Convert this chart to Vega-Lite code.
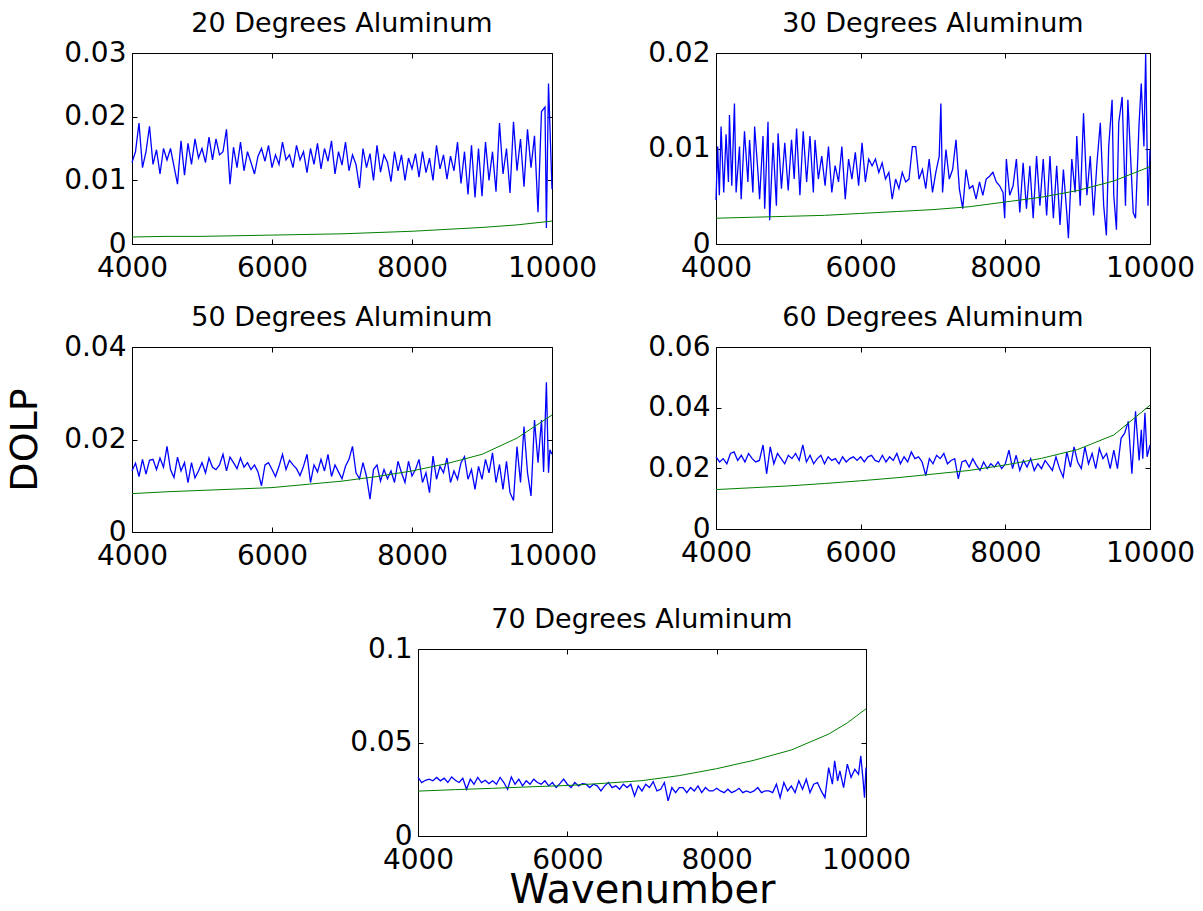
{
  "$schema": "https://vega.github.io/schema/vega-lite/v6.json",
  "background": "white",
  "padding": {"left": 0, "top": 9, "right": 0, "bottom": 0},
  "config": {
    "font": "DejaVu Sans",
    "view": {"stroke": "black", "strokeWidth": 1},
    "axis": {"labelFont": "DejaVu Sans", "labelFontSize": 28, "labelColor": "black", "domain": false, "grid": false, "tickColor": "black", "tickWidth": 1, "tickSize": -5, "labelFlush": false, "labelOverlap": false, "titleFont": "DejaVu Sans", "titleFontWeight": "normal", "titleColor": "black"},
    "axisX": {"labelPadding": 15},
    "axisY": {"labelPadding": 11},
    "title": {"font": "DejaVu Sans", "fontSize": 27, "fontWeight": "normal", "color": "black", "offset": 1, "anchor": "middle", "frame": "group"}
  },
  "datasets": {
    "b20": [{"w":4000,"d":0.0128},{"w":4050,"d":0.0145},{"w":4100,"d":0.0190},{"w":4150,"d":0.0120},{"w":4200,"d":0.0145},{"w":4250,"d":0.0185},{"w":4300,"d":0.0125},{"w":4350,"d":0.0148},{"w":4400,"d":0.0110},{"w":4450,"d":0.0150},{"w":4500,"d":0.0132},{"w":4550,"d":0.0150},{"w":4600,"d":0.0122},{"w":4650,"d":0.0094},{"w":4700,"d":0.0162},{"w":4750,"d":0.0108},{"w":4800,"d":0.0158},{"w":4850,"d":0.0125},{"w":4900,"d":0.0165},{"w":4950,"d":0.0135},{"w":5000,"d":0.0150},{"w":5050,"d":0.0128},{"w":5100,"d":0.0168},{"w":5150,"d":0.0132},{"w":5200,"d":0.0165},{"w":5250,"d":0.0140},{"w":5300,"d":0.0145},{"w":5350,"d":0.0180},{"w":5400,"d":0.0094},{"w":5450,"d":0.0152},{"w":5500,"d":0.0120},{"w":5550,"d":0.0160},{"w":5600,"d":0.0115},{"w":5650,"d":0.0145},{"w":5700,"d":0.0128},{"w":5750,"d":0.0110},{"w":5800,"d":0.0138},{"w":5850,"d":0.0150},{"w":5900,"d":0.0130},{"w":5950,"d":0.0155},{"w":6000,"d":0.0120},{"w":6050,"d":0.0140},{"w":6100,"d":0.0125},{"w":6150,"d":0.0160},{"w":6200,"d":0.0132},{"w":6250,"d":0.0140},{"w":6300,"d":0.0120},{"w":6350,"d":0.0155},{"w":6400,"d":0.0132},{"w":6450,"d":0.0145},{"w":6500,"d":0.0112},{"w":6550,"d":0.0150},{"w":6600,"d":0.0125},{"w":6650,"d":0.0158},{"w":6700,"d":0.0118},{"w":6750,"d":0.0150},{"w":6800,"d":0.0130},{"w":6850,"d":0.0162},{"w":6900,"d":0.0110},{"w":6950,"d":0.0145},{"w":7000,"d":0.0124},{"w":7050,"d":0.0160},{"w":7100,"d":0.0115},{"w":7150,"d":0.0140},{"w":7200,"d":0.0125},{"w":7250,"d":0.0088},{"w":7300,"d":0.0150},{"w":7350,"d":0.0120},{"w":7400,"d":0.0142},{"w":7450,"d":0.0100},{"w":7500,"d":0.0155},{"w":7550,"d":0.0113},{"w":7600,"d":0.0140},{"w":7650,"d":0.0128},{"w":7700,"d":0.0098},{"w":7750,"d":0.0145},{"w":7800,"d":0.0115},{"w":7850,"d":0.0140},{"w":7900,"d":0.0100},{"w":7950,"d":0.0135},{"w":8000,"d":0.0118},{"w":8050,"d":0.0142},{"w":8100,"d":0.0105},{"w":8150,"d":0.0145},{"w":8200,"d":0.0112},{"w":8250,"d":0.0135},{"w":8300,"d":0.0100},{"w":8350,"d":0.0155},{"w":8400,"d":0.0118},{"w":8450,"d":0.0140},{"w":8500,"d":0.0102},{"w":8550,"d":0.0138},{"w":8600,"d":0.0115},{"w":8650,"d":0.0160},{"w":8700,"d":0.0095},{"w":8750,"d":0.0145},{"w":8800,"d":0.0078},{"w":8850,"d":0.0155},{"w":8900,"d":0.0073},{"w":8950,"d":0.0150},{"w":9000,"d":0.0075},{"w":9050,"d":0.0160},{"w":9100,"d":0.0100},{"w":9150,"d":0.0145},{"w":9200,"d":0.0082},{"w":9250,"d":0.0190},{"w":9300,"d":0.0110},{"w":9350,"d":0.0150},{"w":9400,"d":0.0080},{"w":9450,"d":0.0192},{"w":9500,"d":0.0115},{"w":9550,"d":0.0165},{"w":9600,"d":0.0090},{"w":9650,"d":0.0180},{"w":9700,"d":0.0120},{"w":9750,"d":0.0170},{"w":9800,"d":0.0050},{"w":9850,"d":0.0208},{"w":9900,"d":0.0215},{"w":9920,"d":0.0025},{"w":9950,"d":0.0252},{"w":10000,"d":0.0086}],
    "g20": [{"w":4000,"d":0.0011},{"w":4500,"d":0.0012},{"w":5000,"d":0.0012},{"w":5500,"d":0.0013},{"w":6000,"d":0.0014},{"w":6500,"d":0.0015},{"w":7000,"d":0.0016},{"w":7500,"d":0.0018},{"w":8000,"d":0.0020},{"w":8500,"d":0.0023},{"w":9000,"d":0.0026},{"w":9500,"d":0.0030},{"w":10000,"d":0.0036}],
    "b30": [{"w":4000,"d":0.0046},{"w":4023,"d":0.0102},{"w":4046,"d":0.0051},{"w":4070,"d":0.0123},{"w":4107,"d":0.0054},{"w":4139,"d":0.0115},{"w":4172,"d":0.0065},{"w":4186,"d":0.0135},{"w":4218,"d":0.0061},{"w":4255,"d":0.0147},{"w":4278,"d":0.0054},{"w":4325,"d":0.0102},{"w":4348,"d":0.0047},{"w":4394,"d":0.0118},{"w":4441,"d":0.0065},{"w":4464,"d":0.0109},{"w":4510,"d":0.0054},{"w":4534,"d":0.0123},{"w":4580,"d":0.0075},{"w":4603,"d":0.0047},{"w":4650,"d":0.0113},{"w":4673,"d":0.0037},{"w":4719,"d":0.0128},{"w":4742,"d":0.0025},{"w":4789,"d":0.0106},{"w":4835,"d":0.0040},{"w":4858,"d":0.0116},{"w":4905,"d":0.0058},{"w":4951,"d":0.0106},{"w":4998,"d":0.0056},{"w":5044,"d":0.0109},{"w":5081,"d":0.0068},{"w":5114,"d":0.0121},{"w":5160,"d":0.0051},{"w":5206,"d":0.0118},{"w":5253,"d":0.0065},{"w":5299,"d":0.0113},{"w":5346,"d":0.0054},{"w":5369,"d":0.0109},{"w":5415,"d":0.0068},{"w":5462,"d":0.0092},{"w":5508,"d":0.0061},{"w":5555,"d":0.0102},{"w":5601,"d":0.0054},{"w":5647,"d":0.0082},{"w":5694,"d":0.0065},{"w":5740,"d":0.0102},{"w":5787,"d":0.0047},{"w":5833,"d":0.0089},{"w":5879,"d":0.0068},{"w":5926,"d":0.0096},{"w":5972,"d":0.0061},{"w":6019,"d":0.0106},{"w":6065,"d":0.0065},{"w":6111,"d":0.0089},{"w":6158,"d":0.0082},{"w":6204,"d":0.0089},{"w":6251,"d":0.0075},{"w":6297,"d":0.0085},{"w":6343,"d":0.0068},{"w":6390,"d":0.0075},{"w":6436,"d":0.0047},{"w":6483,"d":0.0068},{"w":6529,"d":0.0058},{"w":6575,"d":0.0075},{"w":6622,"d":0.0065},{"w":6668,"d":0.0068},{"w":6715,"d":0.0102},{"w":6761,"d":0.0102},{"w":6807,"d":0.0068},{"w":6854,"d":0.0078},{"w":6900,"d":0.0058},{"w":6947,"d":0.0089},{"w":6993,"d":0.0054},{"w":7039,"d":0.0075},{"w":7086,"d":0.0092},{"w":7109,"d":0.0147},{"w":7132,"d":0.0054},{"w":7179,"d":0.0099},{"w":7225,"d":0.0068},{"w":7271,"d":0.0078},{"w":7318,"d":0.0109},{"w":7364,"d":0.0058},{"w":7411,"d":0.0037},{"w":7457,"d":0.0078},{"w":7503,"d":0.0058},{"w":7550,"d":0.0061},{"w":7596,"d":0.0047},{"w":7643,"d":0.0065},{"w":7689,"d":0.0051},{"w":7735,"d":0.0068},{"w":7782,"d":0.0071},{"w":7828,"d":0.0075},{"w":7875,"d":0.0065},{"w":7921,"d":0.0061},{"w":7968,"d":0.0054},{"w":7991,"d":0.0027},{"w":8014,"d":0.0089},{"w":8060,"d":0.0051},{"w":8107,"d":0.0061},{"w":8153,"d":0.0089},{"w":8200,"d":0.0033},{"w":8246,"d":0.0085},{"w":8292,"d":0.0037},{"w":8339,"d":0.0082},{"w":8385,"d":0.0027},{"w":8432,"d":0.0092},{"w":8478,"d":0.0040},{"w":8524,"d":0.0089},{"w":8571,"d":0.0030},{"w":8617,"d":0.0092},{"w":8664,"d":0.0027},{"w":8710,"d":0.0082},{"w":8756,"d":0.0020},{"w":8803,"d":0.0078},{"w":8849,"d":0.0033},{"w":8872,"d":0.0006},{"w":8919,"d":0.0089},{"w":8965,"d":0.0054},{"w":8988,"d":0.0113},{"w":9035,"d":0.0040},{"w":9081,"d":0.0137},{"w":9128,"d":0.0051},{"w":9174,"d":0.0092},{"w":9220,"d":0.0030},{"w":9267,"d":0.0085},{"w":9313,"d":0.0127},{"w":9360,"d":0.0040},{"w":9397,"d":0.0009},{"w":9429,"d":0.0102},{"w":9476,"d":0.0151},{"w":9499,"d":0.0051},{"w":9536,"d":0.0015},{"w":9568,"d":0.0127},{"w":9615,"d":0.0154},{"w":9661,"d":0.0040},{"w":9694,"d":0.0151},{"w":9731,"d":0.0092},{"w":9768,"d":0.0033},{"w":9800,"d":0.0027},{"w":9847,"d":0.0123},{"w":9879,"d":0.0168},{"w":9916,"d":0.0102},{"w":9940,"d":0.0199},{"w":9972,"d":0.0040},{"w":10000,"d":0.0099}],
    "g30": [{"w":4000,"d":0.0027},{"w":4500,"d":0.0028},{"w":5000,"d":0.0029},{"w":5500,"d":0.0030},{"w":6000,"d":0.0032},{"w":6500,"d":0.0034},{"w":7000,"d":0.0036},{"w":7500,"d":0.0039},{"w":8000,"d":0.0044},{"w":8500,"d":0.0049},{"w":9000,"d":0.0056},{"w":9500,"d":0.0066},{"w":10000,"d":0.0081}],
    "b50": [{"w":4000,"d":0.0132},{"w":4050,"d":0.0149},{"w":4100,"d":0.0120},{"w":4150,"d":0.0157},{"w":4200,"d":0.0125},{"w":4250,"d":0.0155},{"w":4300,"d":0.0157},{"w":4350,"d":0.0135},{"w":4400,"d":0.0160},{"w":4450,"d":0.0140},{"w":4500,"d":0.0185},{"w":4550,"d":0.0135},{"w":4600,"d":0.0118},{"w":4650,"d":0.0162},{"w":4700,"d":0.0132},{"w":4750,"d":0.0150},{"w":4800,"d":0.0107},{"w":4850,"d":0.0150},{"w":4900,"d":0.0117},{"w":4950,"d":0.0132},{"w":5000,"d":0.0150},{"w":5050,"d":0.0128},{"w":5100,"d":0.0160},{"w":5150,"d":0.0140},{"w":5200,"d":0.0135},{"w":5250,"d":0.0145},{"w":5300,"d":0.0168},{"w":5350,"d":0.0132},{"w":5400,"d":0.0162},{"w":5450,"d":0.0150},{"w":5500,"d":0.0137},{"w":5550,"d":0.0160},{"w":5600,"d":0.0140},{"w":5650,"d":0.0150},{"w":5700,"d":0.0135},{"w":5750,"d":0.0145},{"w":5800,"d":0.0130},{"w":5850,"d":0.0100},{"w":5900,"d":0.0145},{"w":5950,"d":0.0150},{"w":6000,"d":0.0135},{"w":6050,"d":0.0120},{"w":6100,"d":0.0142},{"w":6150,"d":0.0168},{"w":6200,"d":0.0135},{"w":6250,"d":0.0155},{"w":6300,"d":0.0145},{"w":6350,"d":0.0137},{"w":6400,"d":0.0122},{"w":6450,"d":0.0142},{"w":6500,"d":0.0168},{"w":6550,"d":0.0107},{"w":6600,"d":0.0145},{"w":6650,"d":0.0130},{"w":6700,"d":0.0157},{"w":6750,"d":0.0132},{"w":6800,"d":0.0168},{"w":6850,"d":0.0120},{"w":6900,"d":0.0145},{"w":6950,"d":0.0130},{"w":7000,"d":0.0115},{"w":7050,"d":0.0142},{"w":7100,"d":0.0157},{"w":7150,"d":0.0185},{"w":7200,"d":0.0128},{"w":7250,"d":0.0115},{"w":7300,"d":0.0150},{"w":7350,"d":0.0120},{"w":7400,"d":0.0071},{"w":7450,"d":0.0135},{"w":7500,"d":0.0145},{"w":7550,"d":0.0110},{"w":7600,"d":0.0135},{"w":7650,"d":0.0115},{"w":7700,"d":0.0132},{"w":7750,"d":0.0107},{"w":7800,"d":0.0153},{"w":7850,"d":0.0128},{"w":7900,"d":0.0107},{"w":7950,"d":0.0153},{"w":8000,"d":0.0121},{"w":8050,"d":0.0135},{"w":8100,"d":0.0157},{"w":8150,"d":0.0107},{"w":8200,"d":0.0128},{"w":8250,"d":0.0085},{"w":8300,"d":0.0164},{"w":8350,"d":0.0114},{"w":8400,"d":0.0142},{"w":8450,"d":0.0128},{"w":8500,"d":0.0160},{"w":8550,"d":0.0107},{"w":8600,"d":0.0132},{"w":8650,"d":0.0114},{"w":8700,"d":0.0150},{"w":8750,"d":0.0163},{"w":8800,"d":0.0114},{"w":8850,"d":0.0135},{"w":8900,"d":0.0092},{"w":8950,"d":0.0142},{"w":9000,"d":0.0114},{"w":9050,"d":0.0157},{"w":9100,"d":0.0128},{"w":9150,"d":0.0171},{"w":9200,"d":0.0107},{"w":9250,"d":0.0146},{"w":9300,"d":0.0092},{"w":9350,"d":0.0153},{"w":9400,"d":0.0085},{"w":9450,"d":0.0068},{"w":9500,"d":0.0185},{"w":9550,"d":0.0107},{"w":9600,"d":0.0228},{"w":9650,"d":0.0128},{"w":9700,"d":0.0078},{"w":9750,"d":0.0242},{"w":9800,"d":0.0150},{"w":9850,"d":0.0242},{"w":9880,"d":0.0130},{"w":9920,"d":0.0324},{"w":9950,"d":0.0128},{"w":9970,"d":0.0178},{"w":10000,"d":0.0168}],
    "g50": [{"w":4000,"d":0.0083},{"w":4500,"d":0.0087},{"w":5000,"d":0.0090},{"w":5500,"d":0.0093},{"w":6000,"d":0.0096},{"w":6500,"d":0.0103},{"w":7000,"d":0.0110},{"w":7500,"d":0.0120},{"w":8000,"d":0.0132},{"w":8500,"d":0.0148},{"w":9000,"d":0.0168},{"w":9500,"d":0.0203},{"w":10000,"d":0.0253}],
    "b60": [{"w":4000,"d":0.0238},{"w":4050,"d":0.0221},{"w":4100,"d":0.0232},{"w":4150,"d":0.0215},{"w":4200,"d":0.0249},{"w":4250,"d":0.0254},{"w":4300,"d":0.0226},{"w":4350,"d":0.0243},{"w":4400,"d":0.0221},{"w":4450,"d":0.0249},{"w":4500,"d":0.0232},{"w":4550,"d":0.0221},{"w":4600,"d":0.0226},{"w":4650,"d":0.0277},{"w":4700,"d":0.0182},{"w":4750,"d":0.0271},{"w":4800,"d":0.0215},{"w":4850,"d":0.0249},{"w":4900,"d":0.0232},{"w":4950,"d":0.0215},{"w":5000,"d":0.0243},{"w":5050,"d":0.0232},{"w":5100,"d":0.0249},{"w":5150,"d":0.0226},{"w":5200,"d":0.0277},{"w":5250,"d":0.0221},{"w":5300,"d":0.0243},{"w":5350,"d":0.0215},{"w":5400,"d":0.0232},{"w":5450,"d":0.0243},{"w":5500,"d":0.0215},{"w":5550,"d":0.0238},{"w":5600,"d":0.0226},{"w":5650,"d":0.0232},{"w":5700,"d":0.0215},{"w":5750,"d":0.0238},{"w":5800,"d":0.0221},{"w":5850,"d":0.0232},{"w":5900,"d":0.0238},{"w":5950,"d":0.0226},{"w":6000,"d":0.0238},{"w":6050,"d":0.0221},{"w":6100,"d":0.0238},{"w":6150,"d":0.0243},{"w":6200,"d":0.0226},{"w":6250,"d":0.0221},{"w":6300,"d":0.0243},{"w":6350,"d":0.0221},{"w":6400,"d":0.0238},{"w":6450,"d":0.0226},{"w":6500,"d":0.0249},{"w":6550,"d":0.0215},{"w":6600,"d":0.0238},{"w":6650,"d":0.0221},{"w":6700,"d":0.0254},{"w":6750,"d":0.0232},{"w":6800,"d":0.0238},{"w":6850,"d":0.0221},{"w":6900,"d":0.0176},{"w":6950,"d":0.0232},{"w":7000,"d":0.0215},{"w":7050,"d":0.0243},{"w":7100,"d":0.0232},{"w":7150,"d":0.0249},{"w":7200,"d":0.0215},{"w":7250,"d":0.0226},{"w":7300,"d":0.0232},{"w":7350,"d":0.0165},{"w":7400,"d":0.0221},{"w":7450,"d":0.0226},{"w":7500,"d":0.0204},{"w":7550,"d":0.0232},{"w":7600,"d":0.0210},{"w":7650,"d":0.0193},{"w":7700,"d":0.0221},{"w":7750,"d":0.0199},{"w":7800,"d":0.0215},{"w":7850,"d":0.0204},{"w":7900,"d":0.0221},{"w":7950,"d":0.0199},{"w":8000,"d":0.0215},{"w":8050,"d":0.0260},{"w":8100,"d":0.0199},{"w":8150,"d":0.0243},{"w":8200,"d":0.0193},{"w":8250,"d":0.0226},{"w":8300,"d":0.0204},{"w":8350,"d":0.0232},{"w":8400,"d":0.0193},{"w":8450,"d":0.0215},{"w":8500,"d":0.0199},{"w":8550,"d":0.0226},{"w":8600,"d":0.0210},{"w":8650,"d":0.0193},{"w":8700,"d":0.0238},{"w":8750,"d":0.0199},{"w":8800,"d":0.0171},{"w":8850,"d":0.0254},{"w":8900,"d":0.0204},{"w":8950,"d":0.0271},{"w":9000,"d":0.0221},{"w":9050,"d":0.0199},{"w":9100,"d":0.0271},{"w":9150,"d":0.0215},{"w":9200,"d":0.0249},{"w":9250,"d":0.0199},{"w":9300,"d":0.0265},{"w":9350,"d":0.0232},{"w":9400,"d":0.0249},{"w":9450,"d":0.0199},{"w":9500,"d":0.0260},{"w":9550,"d":0.0199},{"w":9600,"d":0.0299},{"w":9650,"d":0.0316},{"w":9700,"d":0.0355},{"w":9750,"d":0.0182},{"w":9780,"d":0.0304},{"w":9800,"d":0.0388},{"w":9850,"d":0.0226},{"w":9880,"d":0.0327},{"w":9900,"d":0.0232},{"w":9930,"d":0.0383},{"w":9960,"d":0.0238},{"w":10000,"d":0.0277}],
    "g60": [{"w":4000,"d":0.0130},{"w":4500,"d":0.0136},{"w":5000,"d":0.0142},{"w":5500,"d":0.0150},{"w":6000,"d":0.0159},{"w":6500,"d":0.0169},{"w":7000,"d":0.0181},{"w":7500,"d":0.0193},{"w":8000,"d":0.0211},{"w":8500,"d":0.0233},{"w":9000,"d":0.0262},{"w":9500,"d":0.0310},{"w":10000,"d":0.0408}],
    "b70": [{"w":4000,"d":0.0313},{"w":4050,"d":0.0286},{"w":4100,"d":0.0298},{"w":4150,"d":0.0304},{"w":4200,"d":0.0295},{"w":4250,"d":0.0313},{"w":4300,"d":0.0295},{"w":4350,"d":0.0309},{"w":4400,"d":0.0286},{"w":4450,"d":0.0316},{"w":4500,"d":0.0298},{"w":4550,"d":0.0286},{"w":4600,"d":0.0309},{"w":4650,"d":0.0250},{"w":4700,"d":0.0304},{"w":4750,"d":0.0277},{"w":4800,"d":0.0313},{"w":4850,"d":0.0286},{"w":4900,"d":0.0298},{"w":4950,"d":0.0280},{"w":5000,"d":0.0295},{"w":5050,"d":0.0277},{"w":5100,"d":0.0313},{"w":5150,"d":0.0286},{"w":5200,"d":0.0250},{"w":5250,"d":0.0316},{"w":5300,"d":0.0277},{"w":5350,"d":0.0304},{"w":5400,"d":0.0268},{"w":5450,"d":0.0295},{"w":5500,"d":0.0277},{"w":5550,"d":0.0304},{"w":5600,"d":0.0286},{"w":5650,"d":0.0277},{"w":5700,"d":0.0295},{"w":5750,"d":0.0268},{"w":5800,"d":0.0286},{"w":5850,"d":0.0259},{"w":5900,"d":0.0280},{"w":5950,"d":0.0304},{"w":6000,"d":0.0277},{"w":6050,"d":0.0259},{"w":6100,"d":0.0286},{"w":6150,"d":0.0268},{"w":6200,"d":0.0280},{"w":6250,"d":0.0277},{"w":6300,"d":0.0259},{"w":6350,"d":0.0277},{"w":6400,"d":0.0268},{"w":6450,"d":0.0241},{"w":6500,"d":0.0268},{"w":6550,"d":0.0286},{"w":6600,"d":0.0259},{"w":6650,"d":0.0268},{"w":6700,"d":0.0250},{"w":6750,"d":0.0277},{"w":6800,"d":0.0259},{"w":6850,"d":0.0277},{"w":6900,"d":0.0214},{"w":6950,"d":0.0268},{"w":7000,"d":0.0241},{"w":7050,"d":0.0277},{"w":7100,"d":0.0259},{"w":7150,"d":0.0291},{"w":7200,"d":0.0241},{"w":7250,"d":0.0250},{"w":7300,"d":0.0286},{"w":7350,"d":0.0188},{"w":7400,"d":0.0259},{"w":7450,"d":0.0232},{"w":7500,"d":0.0259},{"w":7550,"d":0.0259},{"w":7600,"d":0.0232},{"w":7650,"d":0.0259},{"w":7700,"d":0.0241},{"w":7750,"d":0.0268},{"w":7800,"d":0.0232},{"w":7850,"d":0.0259},{"w":7900,"d":0.0241},{"w":7950,"d":0.0241},{"w":8000,"d":0.0255},{"w":8050,"d":0.0241},{"w":8100,"d":0.0232},{"w":8150,"d":0.0250},{"w":8200,"d":0.0232},{"w":8250,"d":0.0241},{"w":8300,"d":0.0255},{"w":8350,"d":0.0232},{"w":8400,"d":0.0241},{"w":8450,"d":0.0232},{"w":8500,"d":0.0241},{"w":8550,"d":0.0259},{"w":8600,"d":0.0232},{"w":8650,"d":0.0241},{"w":8700,"d":0.0241},{"w":8750,"d":0.0232},{"w":8800,"d":0.0277},{"w":8850,"d":0.0205},{"w":8900,"d":0.0286},{"w":8950,"d":0.0241},{"w":9000,"d":0.0268},{"w":9050,"d":0.0232},{"w":9100,"d":0.0295},{"w":9150,"d":0.0250},{"w":9200,"d":0.0304},{"w":9250,"d":0.0232},{"w":9300,"d":0.0277},{"w":9350,"d":0.0286},{"w":9400,"d":0.0241},{"w":9450,"d":0.0205},{"w":9500,"d":0.0366},{"w":9550,"d":0.0277},{"w":9580,"d":0.0402},{"w":9620,"d":0.0295},{"w":9650,"d":0.0348},{"w":9700,"d":0.0259},{"w":9750,"d":0.0384},{"w":9800,"d":0.0313},{"w":9850,"d":0.0357},{"w":9900,"d":0.0330},{"w":9930,"d":0.0429},{"w":9960,"d":0.0304},{"w":9980,"d":0.0205},{"w":10000,"d":0.0366}],
    "g70": [{"w":4000,"d":0.0240},{"w":4500,"d":0.0248},{"w":5000,"d":0.0255},{"w":5500,"d":0.0263},{"w":6000,"d":0.0270},{"w":6500,"d":0.0282},{"w":7000,"d":0.0296},{"w":7500,"d":0.0323},{"w":8000,"d":0.0360},{"w":8500,"d":0.0405},{"w":9000,"d":0.0460},{"w":9500,"d":0.0545},{"w":9750,"d":0.0605},{"w":10000,"d":0.0680}]
  },
  "vconcat": [
    {
      "hconcat": [
        {"width": 132, "height": 250, "data": {"values": []}, "mark": "point", "view": {"stroke": null}},
        {
          "width": 420, "height": 191,
          "title": {"text": "20 Degrees Aluminum"},
          "layer": [
            {"data": {"name": "b20"}, "mark": {"type": "line", "color": "#0000ff", "strokeWidth": 1.3},
             "encoding": {
               "x": {"field": "w", "type": "quantitative", "scale": {"domain": [4000, 10000], "nice": false, "zero": false}, "axis": {"orient": "bottom", "values": [4000, 6000, 8000, 10000], "format": "d", "title": null}},
               "y": {"field": "d", "type": "quantitative", "scale": {"domain": [0, 0.03], "nice": false}, "axis": {"orient": "left", "values": [0, 0.01, 0.02, 0.03], "format": "~g", "title": null}}
             }},
            {"data": {"name": "g20"}, "mark": {"type": "line", "color": "#008000", "strokeWidth": 1},
             "encoding": {
               "x": {"field": "w", "type": "quantitative", "scale": {"domain": [4000, 10000], "nice": false, "zero": false}, "axis": {"orient": "top", "values": [4000, 6000, 8000, 10000], "labels": false, "title": null}},
               "y": {"field": "d", "type": "quantitative", "scale": {"domain": [0, 0.03], "nice": false}, "axis": {"orient": "right", "values": [0, 0.01, 0.02, 0.03], "labels": false, "title": null}}
             }}
          ],
          "resolve": {"axis": {"x": "independent", "y": "independent"}}
        },
        {"width": 164, "height": 1, "data": {"values": []}, "mark": "point", "view": {"stroke": null}},
        {
          "width": 434, "height": 191,
          "title": {"text": "30 Degrees Aluminum"},
          "layer": [
            {"data": {"name": "b30"}, "mark": {"type": "line", "color": "#0000ff", "strokeWidth": 1.3},
             "encoding": {
               "x": {"field": "w", "type": "quantitative", "scale": {"domain": [4000, 10000], "nice": false, "zero": false}, "axis": {"orient": "bottom", "values": [4000, 6000, 8000, 10000], "format": "d", "title": null}},
               "y": {"field": "d", "type": "quantitative", "scale": {"domain": [0, 0.02], "nice": false}, "axis": {"orient": "left", "values": [0, 0.01, 0.02], "format": "~g", "title": null}}
             }},
            {"data": {"name": "g30"}, "mark": {"type": "line", "color": "#008000", "strokeWidth": 1},
             "encoding": {
               "x": {"field": "w", "type": "quantitative", "scale": {"domain": [4000, 10000], "nice": false, "zero": false}, "axis": {"orient": "top", "values": [4000, 6000, 8000, 10000], "labels": false, "title": null}},
               "y": {"field": "d", "type": "quantitative", "scale": {"domain": [0, 0.02], "nice": false}, "axis": {"orient": "right", "values": [0, 0.01, 0.02], "labels": false, "title": null}}
             }}
          ],
          "resolve": {"axis": {"x": "independent", "y": "independent"}}
        }
      ],
      "spacing": 0, "bounds": "flush"
    },
    {
      "hconcat": [
        {"width": 132, "height": 258, "data": {"values": []}, "mark": "point", "view": {"stroke": null}},
        {
          "width": 420, "height": 185,
          "title": {"text": "50 Degrees Aluminum"},
          "layer": [
            {"data": {"name": "b50"}, "mark": {"type": "line", "color": "#0000ff", "strokeWidth": 1.3},
             "encoding": {
               "x": {"field": "w", "type": "quantitative", "scale": {"domain": [4000, 10000], "nice": false, "zero": false}, "axis": {"orient": "bottom", "values": [4000, 6000, 8000, 10000], "format": "d", "title": null}},
               "y": {"field": "d", "type": "quantitative", "scale": {"domain": [0, 0.04], "nice": false}, "axis": {"orient": "left", "values": [0, 0.02, 0.04], "format": "~g", "title": "DOLP", "titleFontSize": 38, "titlePadding": 19}}
             }},
            {"data": {"name": "g50"}, "mark": {"type": "line", "color": "#008000", "strokeWidth": 1},
             "encoding": {
               "x": {"field": "w", "type": "quantitative", "scale": {"domain": [4000, 10000], "nice": false, "zero": false}, "axis": {"orient": "top", "values": [4000, 6000, 8000, 10000], "labels": false, "title": null}},
               "y": {"field": "d", "type": "quantitative", "scale": {"domain": [0, 0.04], "nice": false}, "axis": {"orient": "right", "values": [0, 0.02, 0.04], "labels": false, "title": null}}
             }}
          ],
          "resolve": {"axis": {"x": "independent", "y": "independent"}}
        },
        {"width": 164, "height": 1, "data": {"values": []}, "mark": "point", "view": {"stroke": null}},
        {
          "width": 434, "height": 182,
          "title": {"text": "60 Degrees Aluminum"},
          "layer": [
            {"data": {"name": "b60"}, "mark": {"type": "line", "color": "#0000ff", "strokeWidth": 1.3},
             "encoding": {
               "x": {"field": "w", "type": "quantitative", "scale": {"domain": [4000, 10000], "nice": false, "zero": false}, "axis": {"orient": "bottom", "values": [4000, 6000, 8000, 10000], "format": "d", "title": null}},
               "y": {"field": "d", "type": "quantitative", "scale": {"domain": [0, 0.06], "nice": false}, "axis": {"orient": "left", "values": [0, 0.02, 0.04, 0.06], "format": "~g", "title": null}}
             }},
            {"data": {"name": "g60"}, "mark": {"type": "line", "color": "#008000", "strokeWidth": 1},
             "encoding": {
               "x": {"field": "w", "type": "quantitative", "scale": {"domain": [4000, 10000], "nice": false, "zero": false}, "axis": {"orient": "top", "values": [4000, 6000, 8000, 10000], "labels": false, "title": null}},
               "y": {"field": "d", "type": "quantitative", "scale": {"domain": [0, 0.06], "nice": false}, "axis": {"orient": "right", "values": [0, 0.02, 0.04, 0.06], "labels": false, "title": null}}
             }}
          ],
          "resolve": {"axis": {"x": "independent", "y": "independent"}}
        }
      ],
      "spacing": 0, "bounds": "flush"
    },
    {
      "hconcat": [
        {"width": 418, "height": 187, "data": {"values": []}, "mark": "point", "view": {"stroke": null}},
        {
          "width": 448, "height": 187,
          "title": {"text": "70 Degrees Aluminum"},
          "layer": [
            {"data": {"name": "b70"}, "mark": {"type": "line", "color": "#0000ff", "strokeWidth": 1.3},
             "encoding": {
               "x": {"field": "w", "type": "quantitative", "scale": {"domain": [4000, 10000], "nice": false, "zero": false}, "axis": {"orient": "bottom", "values": [4000, 6000, 8000, 10000], "format": "d", "title": "Wavenumber", "titleFontSize": 40, "titlePadding": -4}},
               "y": {"field": "d", "type": "quantitative", "scale": {"domain": [0, 0.1], "nice": false}, "axis": {"orient": "left", "values": [0, 0.05, 0.1], "format": "~g", "title": null}}
             }},
            {"data": {"name": "g70"}, "mark": {"type": "line", "color": "#008000", "strokeWidth": 1},
             "encoding": {
               "x": {"field": "w", "type": "quantitative", "scale": {"domain": [4000, 10000], "nice": false, "zero": false}, "axis": {"orient": "top", "values": [4000, 6000, 8000, 10000], "labels": false, "title": null}},
               "y": {"field": "d", "type": "quantitative", "scale": {"domain": [0, 0.1], "nice": false}, "axis": {"orient": "right", "values": [0, 0.05, 0.1], "labels": false, "title": null}}
             }}
          ],
          "resolve": {"axis": {"x": "independent", "y": "independent"}}
        }
      ],
      "spacing": 0, "bounds": "flush"
    }
  ],
  "spacing": 0,
  "bounds": "full",
  "align": "none"
}
